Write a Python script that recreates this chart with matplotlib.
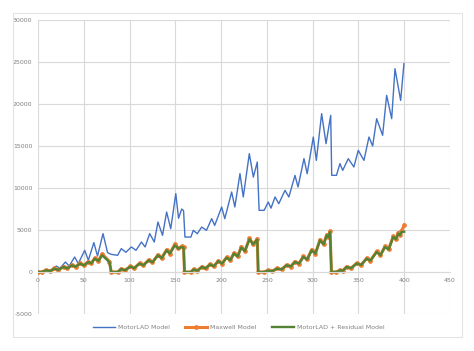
import matplotlib
matplotlib.use("Agg")
import matplotlib.pyplot as plt
from matplotlib.patches import Rectangle

# MotorLAD Model (blue) - vertices
blue_x = [0, 4, 10, 14, 20, 24, 30, 34, 40, 44, 51, 55, 61, 65, 71, 76, 80,
          87, 91, 96, 102, 107, 113, 117, 122, 127, 131, 136, 140.5, 145, 150.5, 153.5, 157, 159, 160.5,
          167, 169.6, 174, 178.8, 184, 189.7, 193, 200.6, 204, 211.5, 215, 220.6, 224.2, 230.8, 235.2, 239.5, 241.5,
          247, 251.5, 254.5, 258.9, 263, 269.8, 274, 280.7, 284, 290.5, 294, 300.7, 304, 309.8, 314.6, 319.7, 320.8,
          326, 329.8, 332.8, 338.9, 345, 349.8, 356, 361.5, 365.5, 369.9, 376.4, 380.8, 386.3, 389.9, 396.1, 399.7]
blue_y = [0, 50, 300, 200, 700, 450, 1190, 700, 1785, 1000, 2580, 1400, 3500, 1900, 4570, 2300, 2100,
          1990, 2780, 2350, 2980, 2580, 3570, 2980, 4570, 3570, 5950, 4370, 7140, 5150, 9330, 6400, 7500, 7300, 4160,
          4160, 4960, 4560, 5350, 4960, 6350, 5550, 7740, 6350, 9520, 7740, 11710, 8930, 14090, 11300, 13090, 7340,
          7340, 8330, 7600, 8930, 8130, 9720, 8930, 11500, 10120, 13500, 11700, 16070, 13290, 18850, 15280, 18650, 11510,
          11510, 12900, 12100, 13490, 12500, 14480, 13290, 16070, 15000, 18250, 16270, 21030, 18250, 24200, 20430, 24800]

# Maxwell Model (orange) and MotorLAD + Residual Model (green) share x vertices
step_x = [0, 4, 9, 13, 18, 22, 28, 32, 37, 41, 46, 50, 55, 58, 62, 66, 70, 78, 80,
          87, 91, 95, 101, 105, 111, 115, 121, 125, 131, 135, 140.5, 144, 149.6, 153.3, 157, 159, 160,
          167, 170, 174, 179, 183, 188, 192, 197, 201, 206, 210, 214, 218, 222, 226, 231, 235, 239.5, 240.5,
          247, 251, 256, 261, 266, 271.6, 276, 280.7, 285, 289.8, 294, 298.9, 303, 308, 312, 315.3, 317, 319, 320.5,
          326, 330, 333, 337, 342, 348, 353, 359, 363, 369.9, 374, 379, 383, 388, 391, 393.5, 395.5, 397, 400]
maxwell_y = [0, 0, 220, 100, 420, 250, 640, 420, 850, 620, 1050, 780, 1250, 1020, 1650, 1320, 2150, 1250, 0,
             0, 380, 200, 680, 450, 1050, 800, 1450, 1150, 2050, 1650, 2650, 2200, 3350, 2800, 3050, 2950, 0,
             0, 330, 150, 630, 420, 930, 680, 1330, 1000, 1750, 1400, 2250, 1850, 3000, 2500, 4000, 3300, 3950, 0,
             0, 180, 100, 430, 300, 850, 650, 1250, 1000, 1850, 1500, 2650, 2200, 3850, 3300, 4450, 4150, 4850, 0,
             0, 230, 150, 630, 450, 1050, 850, 1650, 1350, 2450, 2000, 3050, 2700, 4250, 3900, 4700, 4400, 4900, 5560]
resid_y = [0, 0, 200, 100, 400, 250, 600, 420, 800, 620, 1000, 780, 1190, 1020, 1590, 1320, 1990, 1190, 0,
           0, 350, 200, 650, 450, 1000, 800, 1390, 1150, 1990, 1650, 2580, 2200, 3180, 2780, 2980, 2900, 0,
           0, 300, 150, 600, 420, 900, 680, 1300, 1000, 1700, 1400, 2200, 1850, 2900, 2500, 3900, 3300, 3850, 0,
           0, 150, 100, 400, 300, 800, 650, 1190, 1000, 1790, 1500, 2580, 2200, 3770, 3300, 4370, 4150, 4760, 0,
           0, 200, 150, 600, 450, 1000, 850, 1590, 1350, 2380, 2000, 2980, 2700, 4170, 3900, 4570, 4400, 4760, 4800]

x_ticks = [0, 50, 100, 150, 200, 250, 300, 350, 400, 450]
y_ticks = [-5000, 0, 5000, 10000, 15000, 20000, 25000, 30000]

fig = plt.figure(figsize=(4.74, 3.51), dpi=100)
fig.patches.append(Rectangle((13 / 474, 1 - 337 / 351), 449 / 474, 324 / 351,
                             transform=fig.transFigure, fill=False,
                             edgecolor='#e3e3e3', linewidth=0.8))
ax = fig.add_axes([38 / 474, 1 - 314 / 351, 412 / 474, 294 / 351])

ax.plot(blue_x, blue_y, color='#4472C4', linewidth=1.0, label='MotorLAD Model')
ax.plot(step_x, maxwell_y, color='#ED7D31', linewidth=2.2, marker='o',
        markersize=2.4, label='Maxwell Model')
ax.plot(step_x, resid_y, color='#548235', linewidth=1.7,
        label='MotorLAD + Residual Model')

ax.set_xlim(0, 450)
ax.set_ylim(-5000, 30000)
ax.set_xticks(x_ticks)
ax.set_yticks(y_ticks)
ax.set_xticklabels([str(v) for v in x_ticks])
ax.set_yticklabels([str(v) for v in y_ticks])
ax.grid(True, color='#d9d9d9', linewidth=0.8)
ax.set_axisbelow(True)
for s in ['top', 'right', 'left']:
    ax.spines[s].set_visible(False)
ax.spines['bottom'].set_position(('data', 0))
ax.spines['bottom'].set_color('#d9d9d9')
ax.tick_params(axis='both', length=0, labelsize=4.5, labelcolor='#808080')
ax.tick_params(axis='y', pad=4)
ax.tick_params(axis='x', pad=4)

fig.legend(loc='center', bbox_to_anchor=(239 / 474, 1 - 327 / 351), ncol=3,
           frameon=False, fontsize=4.5, labelcolor='#808080', handlelength=3.5,
           columnspacing=2.5, handletextpad=0.5)

fig.savefig('out.png', dpi=100)
